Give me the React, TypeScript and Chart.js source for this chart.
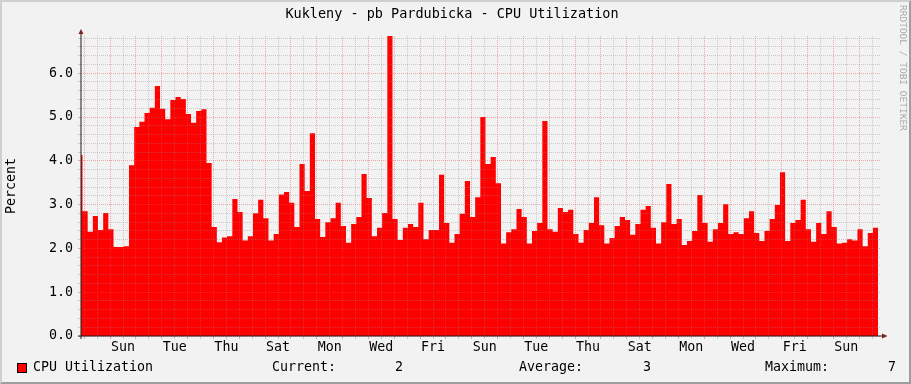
import React, { useEffect, useRef } from 'react';
import { Chart, registerables } from 'chart.js';

Chart.register(...registerables);

const TITLE = 'Kukleny - pb Pardubicka - CPU Utilization';
const Y_TITLE = 'Percent';
const SERIES_NAME = 'CPU Utilization';
const WATERMARK = 'RRDTOOL / TOBI OETIKER';
const STAT_LABELS = ['Current:', 'Average:', 'Maximum:'];
const STAT_VALUES = ['2', '3', '7'];
const DAY_LABELS = ['Sun', 'Tue', 'Thu', 'Sat', 'Mon', 'Wed', 'Fri', 'Sun', 'Tue', 'Thu', 'Sat', 'Mon', 'Wed', 'Fri', 'Sun'];
const Y_LABELS = ['0.0', '1.0', '2.0', '3.0', '4.0', '5.0', '6.0'];

// CPU utilisation (%) per 4.8-hour step; first value is the partial sample at the left edge
const CPU = [
  4.13, 2.85, 2.38, 2.74, 2.42, 2.81, 2.44, 2.03, 2.03, 2.05,
  3.90, 4.77, 4.89, 5.09, 5.21, 5.71, 5.19, 4.95, 5.39, 5.46,
  5.41, 5.07, 4.87, 5.14, 5.18, 3.95, 2.49, 2.14, 2.25, 2.28,
  3.13, 2.83, 2.18, 2.28, 2.80, 3.11, 2.69, 2.18, 2.33, 3.23,
  3.29, 3.04, 2.49, 3.93, 3.31, 4.63, 2.67, 2.26, 2.60, 2.69,
  3.04, 2.51, 2.13, 2.56, 2.72, 3.70, 3.15, 2.28, 2.47, 2.81,
  6.85, 2.67, 2.19, 2.47, 2.56, 2.49, 3.04, 2.21, 2.42, 2.42,
  3.68, 2.58, 2.13, 2.33, 2.79, 3.54, 2.72, 3.17, 5.00, 3.93,
  4.09, 3.49, 2.11, 2.37, 2.44, 2.90, 2.72, 2.11, 2.40, 2.58,
  4.91, 2.44, 2.38, 2.92, 2.83, 2.88, 2.33, 2.13, 2.42, 2.58,
  3.17, 2.53, 2.11, 2.24, 2.51, 2.72, 2.65, 2.31, 2.56, 2.88,
  2.97, 2.47, 2.11, 2.60, 3.47, 2.56, 2.67, 2.08, 2.17, 2.40,
  3.22, 2.58, 2.15, 2.44, 2.58, 3.01, 2.33, 2.37, 2.33, 2.69,
  2.85, 2.35, 2.17, 2.40, 2.67, 2.99, 3.74, 2.17, 2.58, 2.65,
  3.11, 2.44, 2.15, 2.58, 2.33, 2.85, 2.49, 2.11, 2.13, 2.21,
  2.18, 2.44, 2.05, 2.35, 2.47,
];

// time axis in hours, 0 = first midnight
const STEP_HOURS = 4.8;
const FIRST_SAMPLE_HOUR = -6.47;
const X_MIN = -3.07;
const X_MAX = 740.2;
const Y_MAX = 6.85;

const FONT = '"DejaVu Sans Mono", monospace';
const MINOR = 'rgba(140,140,140,0.38)';
const MAJOR = 'rgba(222,79,79,0.45)';

const decor = {
  id: 'rrdDecor',
  afterDraw(chart: any) {
    const ctx = chart.ctx as CanvasRenderingContext2D;
    const { left, top, right, bottom } = chart.chartArea;
    ctx.save();
    // axes
    ctx.strokeStyle = '#1f1f1f';
    ctx.lineWidth = 1;
    ctx.beginPath();
    ctx.moveTo(left, bottom + 3);
    ctx.lineTo(left, top - 3);
    ctx.moveTo(left - 3, bottom);
    ctx.lineTo(right + 2, bottom);
    ctx.stroke();
    ctx.fillStyle = '#801f1f';
    ctx.beginPath();
    ctx.moveTo(left - 2.5, top - 2);
    ctx.lineTo(left + 2.5, top - 2);
    ctx.lineTo(left, top - 7);
    ctx.closePath();
    ctx.fill();
    ctx.beginPath();
    ctx.moveTo(right + 1, bottom - 2.5);
    ctx.lineTo(right + 1, bottom + 2.5);
    ctx.lineTo(right + 6.5, bottom);
    ctx.closePath();
    ctx.fill();

    // title
    ctx.fillStyle = '#000';
    ctx.font = `13.5px ${FONT}`;
    ctx.textAlign = 'center';
    ctx.textBaseline = 'middle';
    ctx.fillText(TITLE, 452, 14);

    // legend
    ctx.font = `13.3px ${FONT}`;
    ctx.textAlign = 'left';
    ctx.fillStyle = '#ff0000';
    ctx.fillRect(17, 363, 10, 10);
    ctx.strokeStyle = '#000';
    ctx.strokeRect(17.5, 363.5, 9, 9);
    ctx.fillStyle = '#000';
    ctx.fillText(SERIES_NAME, 33, 368);
    const labelX = [272, 519, 765];
    const valueX = [395, 643, 888];
    STAT_LABELS.forEach((s, i) => {
      ctx.fillText(s, labelX[i], 368);
      ctx.fillText(STAT_VALUES[i], valueX[i], 368);
    });

    // watermark
    ctx.translate(902, 5);
    ctx.rotate(Math.PI / 2);
    ctx.font = `9.5px ${FONT}`;
    ctx.fillStyle = '#a8a8a8';
    ctx.textBaseline = 'middle';
    ctx.fillText(WATERMARK, 0, 0);
    ctx.restore();
  },
};

export default function App() {
  const ref = useRef<HTMLCanvasElement | null>(null);

  useEffect(() => {
    if (!ref.current) return;
    const points = CPU.map((v, i) => ({ x: FIRST_SAMPLE_HOUR + i * STEP_HOURS, y: v }));
    points.push({ x: FIRST_SAMPLE_HOUR + CPU.length * STEP_HOURS, y: CPU[CPU.length - 1] });

    const chart = new Chart(ref.current, {
      type: 'line',
      data: {
        datasets: [
          {
            label: SERIES_NAME,
            data: points,
            stepped: 'before',
            fill: 'origin',
            backgroundColor: '#ff0000',
            borderWidth: 0,
            pointRadius: 0,
          } as any,
        ],
      },
      options: {
        responsive: false,
        maintainAspectRatio: false,
        animation: false,
        devicePixelRatio: 1,
        layout: { padding: { left: 0, top: 36, right: 30, bottom: 0 } },
        plugins: {
          legend: { display: false },
          title: { display: false },
          tooltip: { enabled: false },
        },
        scales: {
          x: {
            type: 'linear',
            min: X_MIN,
            max: X_MAX,
            afterBuildTicks: (s: any) => {
              const t = [];
              for (let h = 0; h <= X_MAX; h += 12) t.push({ value: h });
              s.ticks = t;
            },
            afterFit: (s: any) => {
              s.height = 48;
            },
            grid: {
              z: 1,
              color: (c: any) => (c.tick && c.tick.value % 24 === 0 ? MAJOR : MINOR),
              tickColor: (c: any) => (c.tick && c.tick.value % 24 === 0 ? MAJOR : MINOR),
              lineWidth: 1,
              drawTicks: true,
              tickLength: 3,
            },
            border: { display: false, dash: [1, 1] },
            ticks: {
              autoSkip: false,
              maxRotation: 0,
              minRotation: 0,
              padding: 1,
              color: '#000',
              font: { family: FONT, size: 13.3 },
              callback: (v: any) => {
                const k = (Number(v) - 36) / 48;
                return Number.isInteger(k) && k >= 0 && k < DAY_LABELS.length ? DAY_LABELS[k] : '';
              },
            },
          },
          y: {
            type: 'linear',
            min: 0,
            max: Y_MAX,
            afterBuildTicks: (s: any) => {
              const t = [];
              for (let i = 0; i * 0.2 <= Y_MAX; i++) t.push({ value: Math.round(i * 2) / 10 });
              s.ticks = t;
            },
            afterFit: (s: any) => {
              s.width = 81;
            },
            grid: {
              z: 1,
              color: (c: any) => (c.tick && Number.isInteger(c.tick.value) ? MAJOR : MINOR),
              tickColor: (c: any) => (c.tick && Number.isInteger(c.tick.value) ? MAJOR : MINOR),
              lineWidth: 1,
              drawTicks: true,
              tickLength: 3,
            },
            border: { display: false, dash: [1, 1] },
            title: {
              display: true,
              text: Y_TITLE,
              color: '#000',
              font: { family: FONT, size: 13.3 },
              padding: { top: 4, bottom: 0 },
            },
            ticks: {
              autoSkip: false,
              padding: 5,
              color: '#000',
              font: { family: FONT, size: 13.3 },
              callback: (v: any) => {
                const n = Number(v);
                return Number.isInteger(n) ? Y_LABELS[n] : '';
              },
            },
          },
        },
      },
      plugins: [decor],
    });
    return () => chart.destroy();
  }, []);

  return (
    <div
      style={{
        position: 'absolute',
        left: 0,
        top: 0,
        width: 911,
        height: 384,
        boxSizing: 'border-box',
        background: '#f2f2f2',
        borderTop: '2px solid #cfcfcf',
        borderLeft: '2px solid #cfcfcf',
        borderRight: '2px solid #9e9e9e',
        borderBottom: '2px solid #9e9e9e',
      }}
    >
      <canvas ref={ref} width={911} height={384} style={{ position: 'absolute', left: -2, top: -2 }} />
    </div>
  );
}
